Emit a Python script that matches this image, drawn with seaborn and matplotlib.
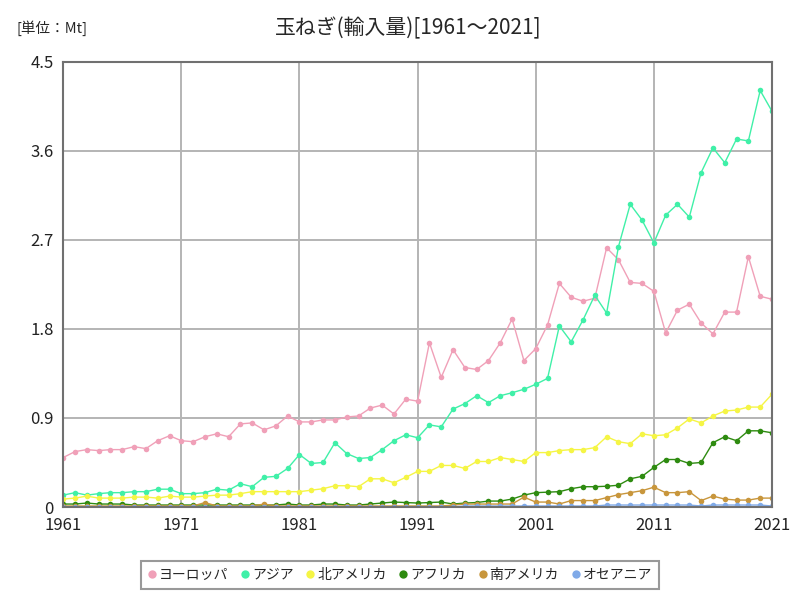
import numpy as np
import pandas as pd
import matplotlib
matplotlib.use("Agg")
import matplotlib.pyplot as plt
import seaborn as sns

years = list(range(1961, 2022))

europe = [0.50, 0.56, 0.58, 0.57, 0.58, 0.58, 0.61, 0.59, 0.67, 0.72,
          0.67, 0.66, 0.71, 0.74, 0.71, 0.84, 0.85, 0.78, 0.82, 0.92,
          0.86, 0.86, 0.88, 0.88, 0.91, 0.92, 1.00, 1.03, 0.94, 1.09,
          1.07, 1.66, 1.31, 1.59, 1.41, 1.39, 1.48, 1.66, 1.90, 1.48,
          1.60, 1.84, 2.26, 2.12, 2.08, 2.11, 2.62, 2.50, 2.27, 2.26,
          2.18, 1.76, 1.99, 2.05, 1.86, 1.75, 1.97, 1.97, 2.53, 2.13,
          2.10]
asia = [0.12, 0.145, 0.12, 0.135, 0.145, 0.145, 0.155, 0.155, 0.18, 0.18,
        0.135, 0.135, 0.145, 0.18, 0.17, 0.235, 0.205, 0.30, 0.31, 0.39,
        0.53, 0.44, 0.45, 0.65, 0.54, 0.49, 0.50, 0.58, 0.67, 0.73,
        0.70, 0.83, 0.81, 0.99, 1.045, 1.125, 1.055, 1.125, 1.155, 1.19,
        1.24, 1.30, 1.83, 1.67, 1.89, 2.14, 1.96, 2.63, 3.06, 2.90,
        2.67, 2.95, 3.06, 2.93, 3.38, 3.63, 3.48, 3.72, 3.70, 4.21,
        4.00]
north_america = [0.08, 0.09, 0.11, 0.09, 0.09, 0.09, 0.10, 0.10, 0.09, 0.11,
                 0.10, 0.10, 0.11, 0.12, 0.12, 0.135, 0.155, 0.155, 0.155, 0.155,
                 0.155, 0.17, 0.185, 0.215, 0.215, 0.205, 0.285, 0.285, 0.245, 0.30,
                 0.36, 0.36, 0.42, 0.42, 0.39, 0.46, 0.46, 0.50, 0.48, 0.46,
                 0.55, 0.55, 0.57, 0.58, 0.58, 0.60, 0.71, 0.66, 0.64, 0.74,
                 0.72, 0.73, 0.80, 0.89, 0.85, 0.92, 0.97, 0.98, 1.01, 1.01,
                 1.14]
africa = [0.03, 0.03, 0.04, 0.03, 0.03, 0.03, 0.02, 0.02, 0.02, 0.02,
          0.02, 0.02, 0.02, 0.02, 0.02, 0.02, 0.02, 0.02, 0.02, 0.03,
          0.02, 0.02, 0.03, 0.03, 0.02, 0.02, 0.03, 0.04, 0.05, 0.045,
          0.04, 0.045, 0.05, 0.03, 0.04, 0.045, 0.06, 0.06, 0.08, 0.12,
          0.145, 0.15, 0.155, 0.185, 0.205, 0.205, 0.21, 0.22, 0.285, 0.31,
          0.40, 0.48, 0.48, 0.44, 0.45, 0.65, 0.71, 0.67, 0.77, 0.77,
          0.75]
south_america = [0.01, 0.01, 0.01, 0.01, 0.01, 0.01, 0.01, 0.01, 0.01, 0.01,
                 0.01, 0.01, 0.045, 0.01, 0.01, 0.01, 0.01, 0.03, 0.01, 0.01,
                 0.01, 0.01, 0.01, 0.01, 0.01, 0.01, 0.01, 0.01, 0.01, 0.01,
                 0.01, 0.01, 0.01, 0.02, 0.03, 0.03, 0.03, 0.03, 0.03, 0.10,
                 0.05, 0.05, 0.03, 0.065, 0.065, 0.065, 0.095, 0.125, 0.145, 0.165,
                 0.20, 0.145, 0.145, 0.155, 0.065, 0.11, 0.08, 0.07, 0.07, 0.09,
                 0.09]
oceania = [0.002] * 34 + [0.01, 0.01, 0.01, 0.01, 0.01, 0.01,
                          0.01, 0.01, 0.01, 0.01, 0.01, 0.01, 0.02, 0.02, 0.02, 0.02,
                          0.02, 0.02, 0.02, 0.02, 0.01, 0.02, 0.02, 0.02, 0.02, 0.02,
                          0.01]

regions = ["ヨーロッパ", "アジア", "北アメリカ", "アフリカ", "南アメリカ", "オセアニア"]
colors = ["#f0a0b8", "#40f0a8", "#f5f545", "#2e8b10", "#c8963c", "#80aae8"]
series = [europe, asia, north_america, africa, south_america, oceania]

yticks = [0, 0.9, 1.8, 2.7, 3.6, 4.5]
ytick_labels = ["0", "0.9", "1.8", "2.7", "3.6", "4.5"]
xticks = [1961, 1971, 1981, 1991, 2001, 2011, 2021]

df = pd.DataFrame({
    "year": np.tile(years, len(regions)),
    "value": np.concatenate(series),
    "region": np.repeat(regions, len(years)),
})

sns.set_theme(style="white")
plt.rcParams["font.family"] = ["Noto Sans CJK JP", "DejaVu Sans"]

fig = plt.figure(figsize=(8, 6), dpi=100)
ax = fig.add_axes([0.079, 0.155, 0.886, 0.742])

sns.lineplot(data=df, x="year", y="value", hue="region", hue_order=regions,
             palette=colors, marker="o", markersize=4, markeredgewidth=0,
             linewidth=1, ax=ax, legend=True)

ax.set_xlim(1961, 2021)
ax.set_ylim(0, 4.5)
ax.set_xticks(xticks)
ax.set_xticklabels([str(x) for x in xticks], fontsize=12)
ax.set_yticks(yticks)
ax.set_yticklabels(ytick_labels, fontsize=12)
ax.set_xlabel("")
ax.set_ylabel("")
ax.grid(True, color="#b4b4b4", linewidth=1.4)
ax.set_axisbelow(True)
for s in ax.spines.values():
    s.set_color("#707070")
    s.set_linewidth(1.5)
ax.tick_params(axis="both", length=0, pad=7, colors="#222222")

fig.text(0.51, 0.953, "玉ねぎ(輸入量)[1961～2021]", ha="center", va="center", fontsize=15)
fig.text(0.02, 0.953, "[単位：Mt]", ha="left", va="center", fontsize=10.5)

handles, labels = ax.get_legend_handles_labels()
ax.legend_.remove()
leg = fig.legend(handles, labels, loc="center", bbox_to_anchor=(0.5, 0.042),
                 ncol=6, frameon=True, fontsize=10, fancybox=False,
                 handlelength=0.6, handletextpad=0.2, columnspacing=0.9,
                 borderpad=0.5)
for h in leg.legend_handles:
    h.set_linestyle("")
    h.set_markersize(6)
leg.get_frame().set_edgecolor("#808080")
leg.get_frame().set_linewidth(1.5)

fig.savefig("out.png", dpi=100)
